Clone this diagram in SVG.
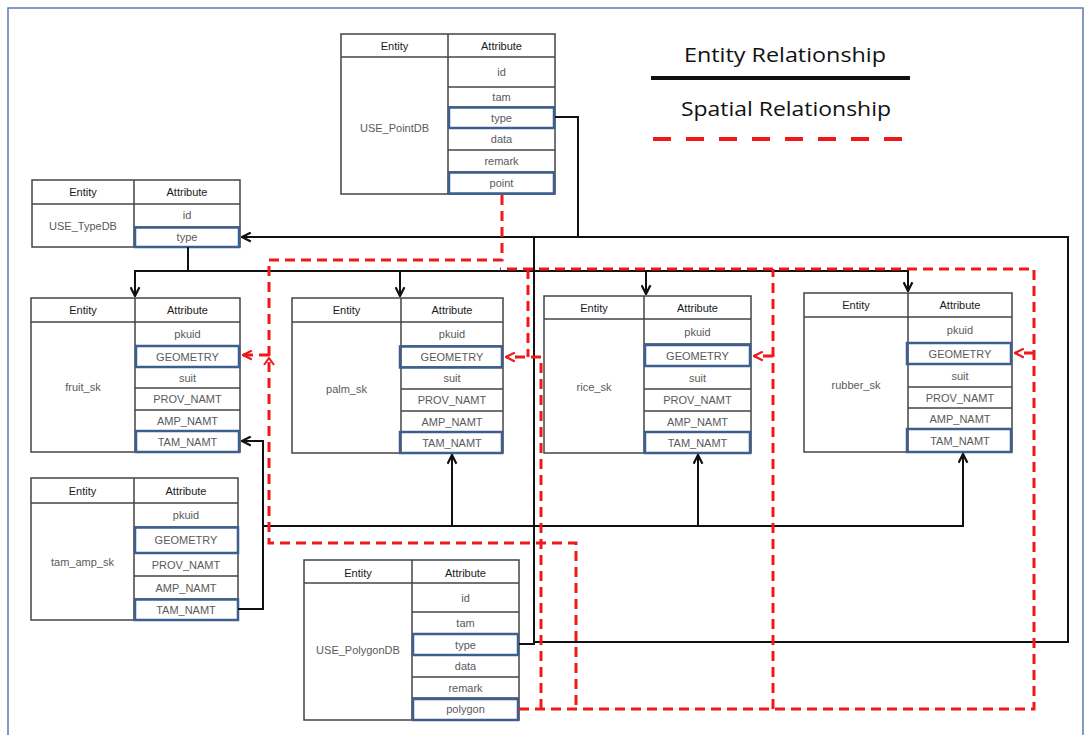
<svg xmlns="http://www.w3.org/2000/svg" width="1092" height="735" viewBox="0 0 1092 735">
<defs>
<style>
.t{font-family:"Liberation Sans",Arial,sans-serif;font-size:11px;text-anchor:middle;fill:#5a5a5a}
.h{font-family:"Liberation Sans",Arial,sans-serif;font-size:11px;text-anchor:middle;fill:#1a1a1a}
.box{fill:#fff;stroke:#444;stroke-width:1.5}
.ln{stroke:#444;stroke-width:1.5;fill:none}
.hl{fill:none;stroke:#3d5f8f;stroke-width:2.5}
.er{fill:none;stroke:#111;stroke-width:2}
.sr{fill:none;stroke:#f01818;stroke-width:3;stroke-dasharray:10 6}
.lg{font-family:"Open Sans",Lato,sans-serif;font-size:20px;text-anchor:middle;fill:#111}
</style>
<marker id="ab" viewBox="0 0 10 10" refX="9" refY="5" markerWidth="11" markerHeight="11" orient="auto" markerUnits="userSpaceOnUse"><path d="M1,1 L9,5 L1,9" fill="none" stroke="#111" stroke-width="2" stroke-dasharray="none"/></marker>
<marker id="ar" viewBox="0 0 10 10" refX="9" refY="5" markerWidth="11" markerHeight="11" orient="auto" markerUnits="userSpaceOnUse"><path d="M1,1 L9,5 L1,9" fill="none" stroke="#f01818" stroke-width="2" stroke-dasharray="none"/></marker>
</defs>
<rect x="0" y="0" width="1092" height="735" fill="#fff"/>
<rect x="8" y="8" width="1075" height="740" fill="none" stroke="#5b7bb0" stroke-width="1.5"/>

<g id="legend">
<text class="lg" x="785" y="62" textLength="202" lengthAdjust="spacingAndGlyphs">Entity Relationship</text>
<line x1="651" y1="78" x2="910" y2="78" stroke="#111" stroke-width="4"/>
<text class="lg" x="786" y="116" textLength="210" lengthAdjust="spacingAndGlyphs">Spatial Relationship</text>
<line x1="653" y1="139" x2="902" y2="139" stroke="#f01818" stroke-width="4" stroke-dasharray="18 15"/>
</g>

<g id="USE_PointDB">
<rect class="box" x="341" y="34" width="214" height="160"/>
<path class="ln" d="M341,57 H555 M448,34 V194 M448,87 H555 M448,107 H555 M448,128 H555 M448,150 H555 M448,172 H555"/>
<rect class="hl" x="449" y="107.5" width="105" height="20.5"/>
<rect class="hl" x="449" y="172.5" width="105" height="21"/>
<text class="h" x="394.5" y="50">Entity</text>
<text class="h" x="501.5" y="50">Attribute</text>
<text class="t" x="501.5" y="76">id</text>
<text class="t" x="501.5" y="101">tam</text>
<text class="t" x="501.5" y="122">type</text>
<text class="t" x="501.5" y="143">data</text>
<text class="t" x="501.5" y="165">remark</text>
<text class="t" x="501.5" y="187">point</text>
<text class="t" x="394.5" y="132">USE_PointDB</text>
</g>

<g id="USE_TypeDB">
<rect class="box" x="32" y="180" width="208" height="67"/>
<path class="ln" d="M32,204 H240 M134,180 V247 M134,227 H240"/>
<rect class="hl" x="135" y="227.5" width="104" height="19.5"/>
<text class="h" x="83" y="196">Entity</text>
<text class="h" x="187" y="196">Attribute</text>
<text class="t" x="187" y="219">id</text>
<text class="t" x="187" y="241">type</text>
<text class="t" x="83" y="230">USE_TypeDB</text>
</g>

<g id="fruit_sk">
<rect class="box" x="31" y="298" width="209" height="154"/>
<path class="ln" d="M31,322 H240 M135,298 V452 M135,346 H240 M135,367 H240 M135,388 H240 M135,410 H240 M135,431 H240"/>
<rect class="hl" x="136" y="346" width="103" height="21"/>
<rect class="hl" x="136" y="431" width="103" height="21"/>
<text class="h" x="83" y="314">Entity</text>
<text class="h" x="187.5" y="314">Attribute</text>
<text class="t" x="187.5" y="338">pkuid</text>
<text class="t" x="187.5" y="360.5">GEOMETRY</text>
<text class="t" x="187.5" y="381.5">suit</text>
<text class="t" x="187.5" y="403">PROV_NAMT</text>
<text class="t" x="187.5" y="424.5">AMP_NAMT</text>
<text class="t" x="187.5" y="445.5">TAM_NAMT</text>
<text class="t" x="83" y="391">fruit_sk</text>
</g>

<g id="palm_sk">
<rect class="box" x="292" y="298" width="211" height="155"/>
<path class="ln" d="M292,322 H503 M401,298 V453 M401,346 H503 M401,367 H503 M401,389 H503 M401,411 H503 M401,432 H503"/>
<rect class="hl" x="400" y="346.5" width="102" height="21"/>
<rect class="hl" x="400" y="432" width="102" height="21"/>
<text class="h" x="346.5" y="314">Entity</text>
<text class="h" x="452" y="314">Attribute</text>
<text class="t" x="452" y="338">pkuid</text>
<text class="t" x="452" y="361">GEOMETRY</text>
<text class="t" x="452" y="382">suit</text>
<text class="t" x="452" y="404">PROV_NAMT</text>
<text class="t" x="452" y="425.5">AMP_NAMT</text>
<text class="t" x="452" y="446.5">TAM_NAMT</text>
<text class="t" x="346.5" y="393">palm_sk</text>
</g>

<g id="rice_sk">
<rect class="box" x="544" y="296" width="207" height="157"/>
<path class="ln" d="M544,319 H751 M644,296 V453 M644,344 H751 M644,366 H751 M644,389 H751 M644,411 H751 M644,432 H751"/>
<rect class="hl" x="645" y="345" width="105" height="21"/>
<rect class="hl" x="645" y="432" width="105" height="21"/>
<text class="h" x="594" y="311.5">Entity</text>
<text class="h" x="697.5" y="311.5">Attribute</text>
<text class="t" x="697.5" y="336">pkuid</text>
<text class="t" x="697.5" y="359.5">GEOMETRY</text>
<text class="t" x="697.5" y="381.5">suit</text>
<text class="t" x="697.5" y="404">PROV_NAMT</text>
<text class="t" x="697.5" y="425.5">AMP_NAMT</text>
<text class="t" x="697.5" y="446.5">TAM_NAMT</text>
<text class="t" x="594" y="391">rice_sk</text>
</g>

<g id="rubber_sk">
<rect class="box" x="804" y="293" width="208" height="159"/>
<path class="ln" d="M804,317 H1012 M908,293 V452 M908,343 H1012 M908,364 H1012 M908,387 H1012 M908,408 H1012 M908,429 H1012"/>
<rect class="hl" x="907" y="343" width="104" height="21"/>
<rect class="hl" x="907" y="429" width="104" height="23"/>
<text class="h" x="856" y="309">Entity</text>
<text class="h" x="960" y="309">Attribute</text>
<text class="t" x="960" y="334">pkuid</text>
<text class="t" x="960" y="357.5">GEOMETRY</text>
<text class="t" x="960" y="379.5">suit</text>
<text class="t" x="960" y="401.5">PROV_NAMT</text>
<text class="t" x="960" y="422.5">AMP_NAMT</text>
<text class="t" x="960" y="444.5">TAM_NAMT</text>
<text class="t" x="856" y="389">rubber_sk</text>
</g>

<g id="tam_amp_sk">
<rect class="box" x="31" y="478" width="207" height="142"/>
<path class="ln" d="M31,503 H238 M134,478 V620 M134,527 H238 M134,553 H238 M134,576 H238 M134,599 H238"/>
<rect class="hl" x="135" y="527.5" width="103" height="25.5"/>
<rect class="hl" x="135" y="599.5" width="103" height="20.5"/>
<text class="h" x="82.5" y="494.5">Entity</text>
<text class="h" x="186" y="494.5">Attribute</text>
<text class="t" x="186" y="519">pkuid</text>
<text class="t" x="186" y="544">GEOMETRY</text>
<text class="t" x="186" y="568.5">PROV_NAMT</text>
<text class="t" x="186" y="591.5">AMP_NAMT</text>
<text class="t" x="186" y="613.5">TAM_NAMT</text>
<text class="t" x="82.5" y="566">tam_amp_sk</text>
</g>

<g id="USE_PolygonDB">
<rect class="box" x="304" y="560" width="215" height="160"/>
<path class="ln" d="M304,583 H519 M412,560 V720 M412,612 H519 M412,634 H519 M412,655 H519 M412,677 H519 M412,698 H519"/>
<rect class="hl" x="413" y="634" width="105" height="21"/>
<rect class="hl" x="413" y="699" width="105" height="21"/>
<text class="h" x="358" y="577">Entity</text>
<text class="h" x="465.5" y="577">Attribute</text>
<text class="t" x="465.5" y="602">id</text>
<text class="t" x="465.5" y="627">tam</text>
<text class="t" x="465.5" y="649">type</text>
<text class="t" x="465.5" y="670">data</text>
<text class="t" x="465.5" y="691.5">remark</text>
<text class="t" x="465.5" y="713">polygon</text>
<text class="t" x="358" y="654">USE_PolygonDB</text>
</g>

<g id="connectors">
<path class="er" d="M555,117 H578 V237"/>
<path class="er" d="M519,644 H534 V237"/>
<path class="er" d="M534,642 H1068 V237 H242" marker-end="url(#ab)"/>
<path class="er" d="M188,247 V271 H135 V296" marker-end="url(#ab)"/>
<path class="er" d="M188,271 H400 V296" marker-end="url(#ab)"/>
<path class="er" d="M400,271 H646 V294" marker-end="url(#ab)"/>
<path class="er" d="M646,271 H908 V291" marker-end="url(#ab)"/>
<path class="er" d="M238,609 H263 V441 H242" marker-end="url(#ab)"/>
<path class="er" d="M263,526 H452 V455" marker-end="url(#ab)"/>
<path class="er" d="M452,526 H698 V455" marker-end="url(#ab)"/>
<path class="er" d="M698,526 H963 V454" marker-end="url(#ab)"/>

<path class="sr" d="M502,195 V260 H269 V543 H576 V709"/>
<path class="sr" d="M269,355 H243" marker-end="url(#ar)"/>
<path d="M264,365 L269,358 L274,365" fill="none" stroke="#f01818" stroke-width="2"/>
<path class="sr" d="M519,709 H1034 V269 H500"/>
<path class="sr" d="M541,709 V357 H506" marker-end="url(#ar)"/>
<path class="sr" d="M528,269 V357"/>
<path class="sr" d="M773,709 V269"/>
<path class="sr" d="M773,356 H754" marker-end="url(#ar)"/>
<path class="sr" d="M1034,353 H1015" marker-end="url(#ar)"/>
</g>
</svg>
